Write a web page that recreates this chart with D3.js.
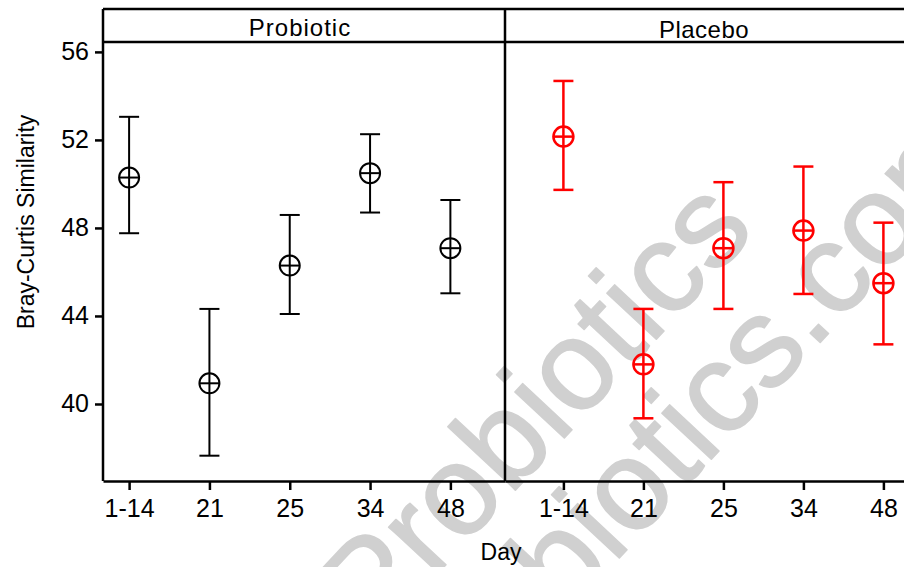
<!DOCTYPE html>
<html>
<head>
<meta charset="utf-8">
<script src="https://cdn.jsdelivr.net/npm/d3@7"></script>
<style>
  html, body { margin: 0; padding: 0; background: #fff; }
  svg { display: block; font-family: "Liberation Sans", Arial, sans-serif; }
</style>
</head>
<body>
<svg id="chart" width="904" height="567"></svg>
<script>
// ---- data ----
const days = ["1-14", "21", "25", "34", "48"];
const panels = ["Probiotic", "Placebo"];
const yTicks = [40, 44, 48, 52, 56];

const probioticMean  = [50.29, 40.94, 46.29, 50.49, 47.08];
const probioticUpper = [53.05, 44.32, 48.59, 52.26, 49.27];
const probioticLower = [47.76, 37.65, 44.09, 48.70, 45.03];

const placeboMean  = [52.15, 41.80, 47.08, 47.88, 45.49];
const placeboUpper = [54.68, 44.32, 50.08, 50.79, 48.24];
const placeboLower = [49.73, 39.35, 44.32, 45.00, 42.71];

const yTitle = "Bray-Curtis Similarity";
const xTitle = "Day";
const watermarkLines = ["Probiotics", "Probiotics.com"];

// ---- layout ----
const svg = d3.select("#chart");
const plotTop = 42, plotBottom = 481, stripTop = 9;
const y = d3.scaleLinear().domain([36.5, 56.45]).range([plotBottom, plotTop]);

const panelDefs = [
  { name: panels[0], color: "#000", mean: probioticMean, up: probioticUpper, lo: probioticLower,
    x: d3.scaleLinear().domain([-0.325, 4.68]).range([103, 505]) },
  { name: panels[1], color: "#ff0000", mean: placeboMean, up: placeboUpper, lo: placeboLower,
    x: d3.scaleLinear().domain([-0.73, 4.295]).range([505, 907]) }
];

// watermark (behind)
const wm = svg.append("g").attr("fill", "#d0d0d0").attr("stroke", "#d0d0d0")
  .attr("stroke-width", 1.5).attr("stroke-linejoin", "round").style("font-size", "128px");
wm.append("text").attr("transform", "translate(374,642) rotate(-47)").text(watermarkLines[0]);
wm.append("text").attr("transform", "translate(429,762) rotate(-47)").text(watermarkLines[1]);

// panels
panelDefs.forEach((p, pi) => {
  const g = svg.append("g");
  const [x0, x1] = p.x.range();
  g.append("line").attr("x1", x0).attr("x2", Math.min(x1, 904)).attr("y1", stripTop).attr("y2", stripTop)
    .attr("stroke", "#000").attr("stroke-width", 2.5);
  g.append("line").attr("x1", x0).attr("x2", Math.min(x1, 904)).attr("y1", plotTop).attr("y2", plotTop)
    .attr("stroke", "#000").attr("stroke-width", 2.5);
  g.append("text").attr("x", pi === 0 ? 300 : 704).attr("y", pi === 0 ? 36 : 38)
    .attr("text-anchor", "middle").style("font-size", "24px").style("letter-spacing", pi === 0 ? "1px" : "0.5px")
    .text(p.name);
  const ax = d3.axisBottom(p.x).tickValues(d3.range(days.length))
    .tickFormat(i => days[i]).tickSize(9).tickPadding(9).tickSizeOuter(0);
  const axG = g.append("g").attr("transform", `translate(0,${plotBottom})`).call(ax);
  axG.select(".domain").attr("stroke-width", 2.5);
  axG.selectAll(".tick line").attr("stroke-width", 2.5);
  axG.selectAll(".tick text").style("font-size", "25px").attr("fill", "#000");

  const pts = g.append("g").attr("stroke", p.color).attr("fill", "none").attr("stroke-width", pi === 0 ? 2 : 2.5);
  days.forEach((d, i) => {
    const cx = p.x(i);
    pts.append("line").attr("x1", cx).attr("x2", cx).attr("y1", y(p.up[i])).attr("y2", y(p.lo[i]));
    pts.append("line").attr("x1", cx - 10).attr("x2", cx + 10).attr("y1", y(p.up[i])).attr("y2", y(p.up[i]));
    pts.append("line").attr("x1", cx - 10).attr("x2", cx + 10).attr("y1", y(p.lo[i])).attr("y2", y(p.lo[i]));
    const cy = y(p.mean[i]);
    pts.append("circle").attr("cx", cx).attr("cy", cy).attr("r", 10).attr("fill", "none");
    pts.append("line").attr("x1", cx - 10).attr("x2", cx + 10).attr("y1", cy).attr("y2", cy);
  });
});

const yAx = d3.axisLeft(y).tickValues(yTicks).tickSize(8).tickPadding(6).tickSizeOuter(0);
const yG = svg.append("g").attr("transform", "translate(103,0)").call(yAx);
yG.select(".domain").remove();
yG.selectAll(".tick line").attr("stroke-width", 2.5);
yG.selectAll(".tick text").style("font-size", "25px").attr("fill", "#000");
svg.append("line").attr("x1", 103).attr("x2", 103).attr("y1", stripTop).attr("y2", plotBottom)
  .attr("stroke", "#000").attr("stroke-width", 2.5);
svg.append("line").attr("x1", 505).attr("x2", 505).attr("y1", stripTop).attr("y2", plotBottom)
  .attr("stroke", "#000").attr("stroke-width", 2.5);

svg.append("text").attr("transform", "translate(34,222) rotate(-90)").attr("text-anchor", "middle")
  .style("font-size", "23px").text(yTitle);
svg.append("text").attr("x", 501).attr("y", 560).attr("text-anchor", "middle")
  .style("font-size", "23px").text(xTitle);
</script>
</body>
</html>
